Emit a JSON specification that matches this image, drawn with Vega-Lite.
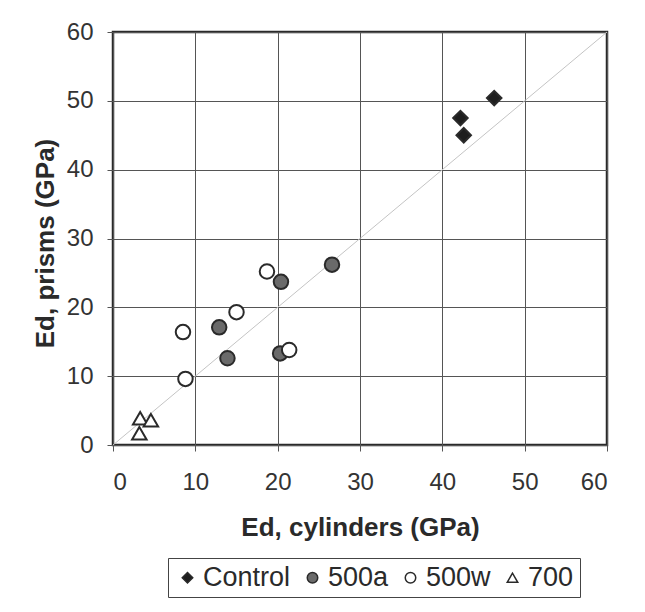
{
  "$schema": "https://vega.github.io/schema/vega-lite/v6.json",
  "width": 494,
  "height": 413,
  "autosize": {"type": "none"},
  "padding": {"left": 113, "top": 32, "right": 38, "bottom": 167},
  "background": "white",
  "config": {
    "view": {"stroke": "#2a2a2a", "strokeWidth": 2.5},
    "font": "Liberation Sans"
  },
  "layer": [
    {
      "data": {"values": [{"x": 0, "y": 0}, {"x": 60, "y": 60}]},
      "mark": {"type": "line", "color": "#c4c4c4", "strokeWidth": 1},
      "encoding": {
        "x": {"field": "x", "type": "quantitative"},
        "y": {"field": "y", "type": "quantitative"}
      }
    },
    {
      "data": {"values": [
        {"series": "Control", "cyl": 46.3, "prism": 50.4},
        {"series": "Control", "cyl": 42.2, "prism": 47.5},
        {"series": "Control", "cyl": 42.6, "prism": 45.0},
        {"series": "500a", "cyl": 26.6, "prism": 26.2},
        {"series": "500a", "cyl": 20.4, "prism": 23.7},
        {"series": "500a", "cyl": 12.9, "prism": 17.1},
        {"series": "500a", "cyl": 13.9, "prism": 12.6},
        {"series": "500a", "cyl": 20.3, "prism": 13.3},
        {"series": "500w", "cyl": 18.7, "prism": 25.2},
        {"series": "500w", "cyl": 15.0, "prism": 19.3},
        {"series": "500w", "cyl": 8.5, "prism": 16.4},
        {"series": "500w", "cyl": 8.8, "prism": 9.6},
        {"series": "500w", "cyl": 21.4, "prism": 13.8},
        {"series": "700", "cyl": 3.3, "prism": 3.9},
        {"series": "700", "cyl": 4.6, "prism": 3.6},
        {"series": "700", "cyl": 3.2, "prism": 1.7}
      ]},
      "mark": {"type": "point", "filled": false, "strokeWidth": 2, "stroke": "#2a2a2a", "opacity": 1, "size": 210},
      "encoding": {
        "x": {
          "field": "cyl", "type": "quantitative",
          "scale": {"domain": [0, 60], "nice": false},
          "axis": {
            "title": "Ed, cylinders (GPa)", "values": [0, 10, 20, 30, 40, 50, 60],
            "grid": true, "gridColor": "#555", "gridWidth": 1, "gridOpacity": 1,
            "domain": false, "ticks": true, "tickColor": "#555", "tickSize": 6,
            "labelFontSize": 24, "labelColor": "#333", "labelPadding": 19,
            "titleFontSize": 26, "titleFontWeight": "bold", "titleColor": "#2a2a2a",
            "titleBaseline": "alphabetic", "titleY": 90
          }
        },
        "y": {
          "field": "prism", "type": "quantitative",
          "scale": {"domain": [0, 60], "nice": false},
          "axis": {
            "title": "Ed, prisms (GPa)", "values": [0, 10, 20, 30, 40, 50, 60],
            "grid": true, "gridColor": "#555", "gridWidth": 1, "gridOpacity": 1,
            "domain": false, "ticks": true, "tickColor": "#555", "tickSize": 6,
            "labelFontSize": 24, "labelColor": "#333", "labelPadding": 14,
            "titleFontSize": 26, "titleFontWeight": "bold", "titleColor": "#2a2a2a",
            "titleBaseline": "alphabetic", "titleX": -60, "titleY": 211, "titleAlign": "center", "titleAngle": -90
          }
        },
        "shape": {
          "field": "series", "type": "nominal",
          "scale": {"domain": ["Control", "500a", "500w", "700"], "range": ["diamond", "circle", "circle", "triangle-up"]},
          "legend": {
            "title": null, "orient": "none", "direction": "horizontal",
            "legendX": 55, "legendY": 526,
            "strokeColor": "#444", "padding": 6,
            "labelFontSize": 27, "labelColor": "#2a2a2a", "symbolSize": 110,
            "columnPadding": 8, "labelOffset": 2,
            "encode": {
              "symbols": {
                "update": {
                  "stroke": {"value": "#2a2a2a"},
                  "strokeWidth": {"value": 1.5}
                }
              }
            }
          }
        },
        "fill": {
          "field": "series", "type": "nominal",
          "scale": {"domain": ["Control", "500a", "500w", "700"], "range": ["#1e1e1e", "#6a6a6a", "#ffffff", "#ffffff"]}
        }
      }
    }
  ]
}
